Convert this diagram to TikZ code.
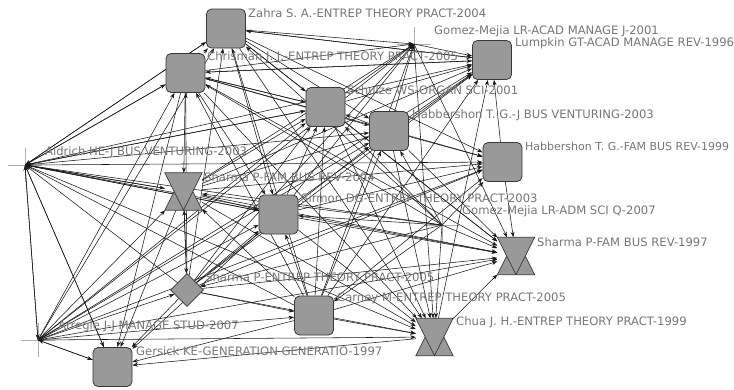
\documentclass[tikz,border=0pt]{standalone}
\usepackage{fontspec}
\newfontfamily\labfont{DejaVu Sans}
\usetikzlibrary{shapes.geometric,arrows.meta}
\pgfdeclarelayer{bg}
\pgfsetlayers{bg,main}
\definecolor{nodefill}{RGB}{153,153,153}
\definecolor{nodeline}{RGB}{55,55,55}
\definecolor{labgray}{RGB}{118,118,118}
\definecolor{crossgray}{RGB}{175,175,175}
\begin{document}
\begin{tikzpicture}[x=1pt,y=-1pt,
  sq/.style={draw=nodeline, fill=nodefill, rounded corners=5pt, minimum size=39pt, inner sep=0pt, line width=0.8pt},
  hg/.style={minimum size=37pt, inner sep=0pt},
  hgtri/.style={fill=nodefill, draw=nodeline, line width=0.7pt, line join=miter},
  dm/.style={diamond, draw=nodeline, fill=nodefill, minimum size=33pt, inner sep=0pt, line width=0.8pt},
  pt/.style={inner sep=0pt, minimum size=0pt},
  lbl/.style={anchor=west, inner sep=0pt, text=labgray, font=\labfont\fontsize{11.6}{13}\selectfont},
  ed/.style={draw=black!90, line width=0.55pt, -{Stealth[length=5.5pt,width=4pt]}},
  crossl/.style={draw=crossgray, line width=0.7pt}]
\useasboundingbox (0,0) rectangle (734,389);
% nodes
\node[sq] (Z) at (226,28.5) {};
\node[sq] (C) at (185.5,73) {};
\node[pt] (GM) at (414,44) {};
\node[sq] (L) at (492,60) {};
\node[sq] (S) at (325.5,107) {};
\node[sq] (HJ) at (389,131) {};
\node[sq] (HF) at (502.5,162) {};
\node[pt] (A) at (25,165) {};
\node[hg] (SH4) at (183.5,191.5) {};
\node[sq] (SI) at (278.5,214.5) {};
\node[pt] (GA) at (442,225) {};
\node[hg] (SH7) at (516,256) {};
\node[dm] (SD) at (187,290) {};
\node[sq] (CA) at (314,315.5) {};
\node[hg] (CH) at (434.5,337) {};
\node[pt] (AR) at (38,340) {};
\node[sq] (G) at (112.5,367) {};
% hourglass shapes
\foreach \n in {SH4,SH7,CH} {
  \path[hgtri] (\n.south west) -- (\n.north) -- (\n.south east) -- cycle;
  \path[hgtri] (\n.north west) -- (\n.north east) -- (\n.south) -- cycle;
}
% connectors
\begin{pgfonlayer}{bg}
\foreach \n in {A,AR,GM,GA} {
  \draw[crossl] ([xshift=-17pt]\n.center) -- ([xshift=17pt]\n.center);
  \draw[crossl] ([yshift=-17pt]\n.center) -- ([yshift=17pt]\n.center);
}
\foreach \s in {Z,C,S,A,HJ,SI,SH4,SD,CA,AR,GA,GM} \draw[ed] (\s) -- (CH);
\foreach \s in {Z,C,S,HJ,HF,SI,SH4,SD,CA,CH,AR,A,GA,GM} \draw[ed] (\s) -- (SH7);
\foreach \s in {Z,C,S,HJ,HF,SI,SH4,SD,CA,CH,GM,A,AR} \draw[ed] (\s) -- (L);
\foreach \s in {AR,A,CA,SD,SI,CH,C,SH4} \draw[ed] (\s) -- (G);
\foreach \s in {AR,SD,CA,SH4,SI,C,Z,G,GA,S} \draw[ed] (\s) -- (A);
\foreach \s in {Z,C,HJ,SI,SH4,SD,CA,AR,GA,A} \draw[ed] (\s) -- (HF);
\foreach \s in {Z,C,SI,SH4,SD,CA,AR,GA,HJ,A} \draw[ed] (\s) -- (S);
\foreach \s in {Z,C,SI,SD,CA,AR,HJ,S,SH4} \draw[ed] (\s) -- (GM);
\foreach \s in {Z,C,SH4,SD,CA,AR,GA,A} \draw[ed] (\s) -- (HJ);
\foreach \s in {Z,C,SH4,SD,CA,AR,GA,A} \draw[ed] (\s) -- (SI);
\foreach \s in {C,SD,CA,AR,GA,L,A} \draw[ed] (\s) -- (Z);
\foreach \s in {C,SD,CA,AR,GA,A} \draw[ed] (\s) -- (SH4);
\foreach \s in {SD,CA,AR,GA,L,A,S} \draw[ed] (\s) -- (C);
\foreach \s in {AR,GA,SD} \draw[ed] (\s) -- (CA);
\foreach \s in {AR,GA,SH4} \draw[ed] (\s) -- (SD);
\foreach \s in {A,G} \draw[ed] (\s) -- (AR);
\end{pgfonlayer}
% labels
\node[lbl] (tZ) at (248,13) {Zahra S. A.-ENTREP THEORY PRACT-2004};
\node[lbl] (tC) at (207,57) {Chrisman J. J.-ENTREP THEORY PRACT-2005};
\node[lbl] (tGM) at (434,31) {Gomez-Mejia LR-ACAD MANAGE J-2001};
\node[lbl] (tL) at (515,43) {Lumpkin GT-ACAD MANAGE REV-1996};
\node[lbl] (tS) at (347,90) {Schulze WS-ORGAN SCI-2001};
\node[lbl] (tHJ) at (412,115) {Habbershon T. G.-J BUS VENTURING-2003};
\node[lbl, font=\labfont\fontsize{11}{13}\selectfont] (tHF) at (525,146) {Habbershon T. G.-FAM BUS REV-1999};
\node[lbl] (tA) at (45,152) {Aldrich HE-J BUS VENTURING-2003};
\node[lbl] (tSH4) at (204,177) {Sharma P-FAM BUS REV-2004};
\node[lbl] (tSI) at (301,198) {Sirmon DG-ENTREP THEORY PRACT-2003};
\node[lbl] (tGA) at (462,211) {Gomez-Mejia LR-ADM SCI Q-2007};
\node[lbl] (tSH7) at (537,242) {Sharma P-FAM BUS REV-1997};
\node[lbl] (tSD) at (205,277) {Sharma P-ENTREP THEORY PRACT-2005};
\node[lbl] (tCA) at (337,298) {Carney M-ENTREP THEORY PRACT-2005};
\node[lbl] (tCH) at (456,322) {Chua J. H.-ENTREP THEORY PRACT-1999};
\node[lbl] (tAR) at (58,326) {Arregle J-J MANAGE STUD-2007};
\node[lbl] (tG) at (136,351) {Gersick KE-GENERATION GENERATIO-1997};
\end{tikzpicture}
\end{document}
